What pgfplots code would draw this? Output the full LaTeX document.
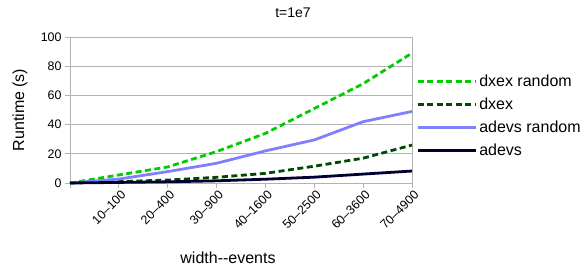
\documentclass[border=0pt]{standalone}
\usepackage{pgfplots}
\pgfplotsset{compat=1.18}
\usepackage{fontspec}
\setmainfont{Liberation Sans}
\definecolor{cgreen}{HTML}{00CC00}
\definecolor{cdgreen}{HTML}{004A00}
\definecolor{cblue}{HTML}{8080FF}
\definecolor{cnavy}{HTML}{000033}
\definecolor{cgrid}{HTML}{B3B3B3}
\begin{document}
\begin{tikzpicture}
\useasboundingbox (0,0) rectangle (586bp,269bp);
\begin{axis}[
  at={(70bp,86bp)}, anchor=south west,
  scale only axis, width=342bp, height=146bp,
  xmin=0, xmax=7, ymin=0, ymax=100,
  xtick={0,1,2,3,4,5,6,7},
  xticklabels={,10--100,20--400,30--900,40--1600,50--2500,60--3600,70--4900},
  ytick={0,20,40,60,80,100},
  /pgf/number format/assume math mode=true,
  tick label style={font=\fontsize{12.4bp}{14bp}\selectfont, color=black},
  xticklabel style={rotate=45, anchor=north east, inner sep=2bp, xshift=2bp},
  tick align=outside, tick pos=left,
  major tick length=5bp,
  tick style={cgrid, line width=0.8bp},
  axis line style={cgrid, line width=0.8bp},
  axis x line*=bottom,
  ymajorgrids, grid style={cgrid, line width=0.8bp},
  xlabel={width-{}-events},
  ylabel={Runtime (s)},
  label style={font=\fontsize{16bp}{18bp}\selectfont},
  xlabel style={at={(axis description cs:0.462,-0.514)}, anchor=center},
  ylabel style={at={(axis description cs:-0.146,0.5)}, anchor=center, rotate=0},
  legend style={at={(axis description cs:1.0125,0.755)}, anchor=north west, draw=none, fill=none,
    font=\fontsize{16bp}{18bp}\selectfont, row sep=6bp, inner sep=0pt},
  legend cell align=left,
  legend image code/.code={\draw[#1] (0bp,0bp) -- (58bp,0bp);},
  every axis plot/.append style={line width=2.8bp},
  clip=false,
]
\draw[cgrid, line width=0.8bp] (axis cs:7,0) -- (axis cs:7,100);
\addplot[cgreen, dash pattern=on 6bp off 3.5bp] coordinates {(0,0) (1,5.5) (2,11) (3,21.5) (4,34) (5,51) (6,68) (7,89)};
\addlegendentry{dxex random}
\addplot[cdgreen, dash pattern=on 6bp off 3.5bp] coordinates {(0,0) (1,1) (2,2) (3,3.9) (4,6.6) (5,11.5) (6,17) (7,26)};
\addlegendentry{dxex}
\addplot[cblue] coordinates {(0,0) (1,2.7) (2,7.8) (3,13.5) (4,22) (5,29.5) (6,42) (7,49)};
\addlegendentry{adevs random}
\addplot[cnavy] coordinates {(0,0) (1,0.4) (2,0.8) (3,1.5) (4,2.6) (5,4) (6,6.1) (7,8.2)};
\addlegendentry{adevs}
\end{axis}
\node[font=\fontsize{14bp}{16bp}\selectfont] at (293bp,256bp) {t=1e7};
\end{tikzpicture}
\end{document}
